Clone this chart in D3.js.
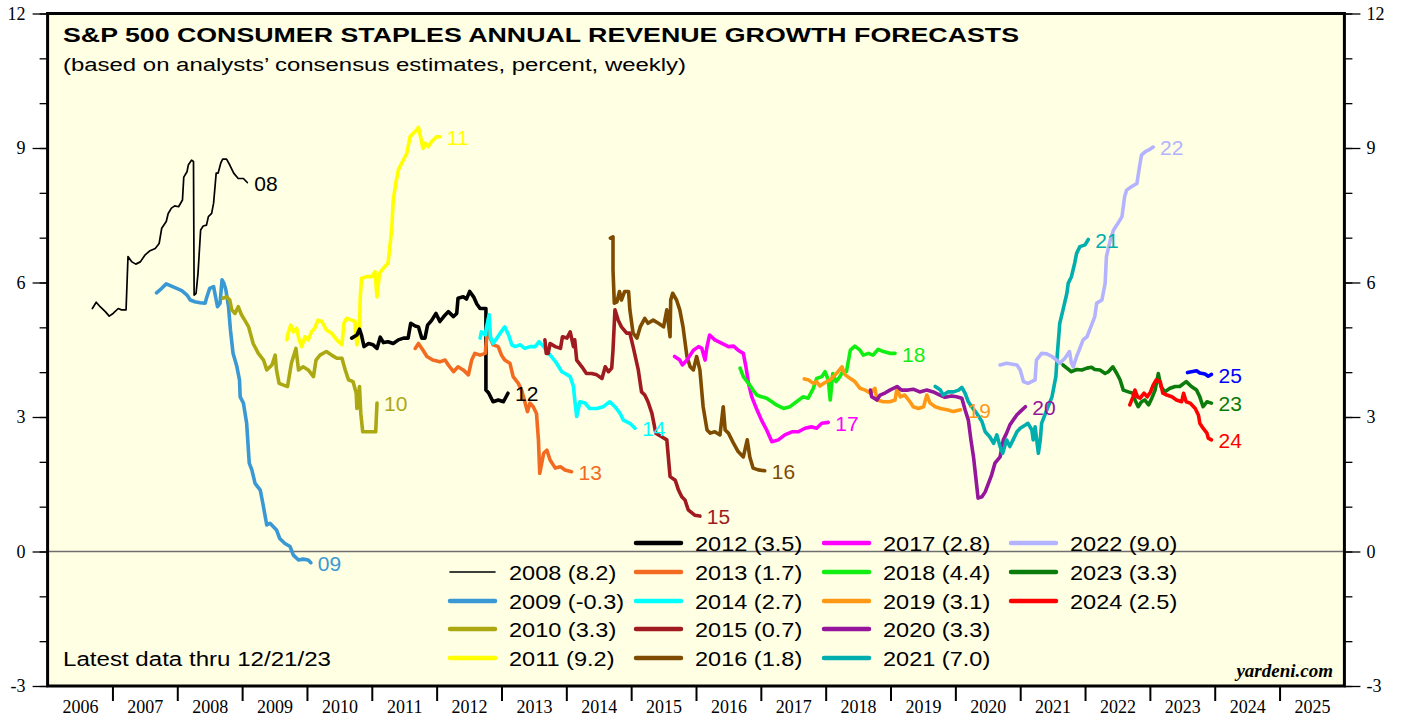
<!DOCTYPE html>
<html>
<head>
<meta charset="utf-8">
<script src="https://cdn.jsdelivr.net/npm/d3@7"></script>
<style>
html, body { margin: 0; padding: 0; background: #fff; }
svg { display: block; font-family: "Liberation Sans", Arial, sans-serif; }
</style>
</head>
<body>
<svg id="chart"></svg>
<script>
// chart size
const width = 1403;
const height = 717;

// weekly consensus forecasts, [date (decimal year), percent]
const d2008 = [[2006.69,5.42],[2006.75,5.56],[2006.81,5.46],[2006.89,5.35],[2006.95,5.25],[2007.01,5.31],[2007.09,5.42],[2007.14,5.39],[2007.21,5.39],[2007.24,6.58],[2007.30,6.46],[2007.36,6.41],[2007.43,6.46],[2007.50,6.61],[2007.58,6.71],[2007.66,6.76],[2007.72,6.87],[2007.76,7.21],[2007.83,7.36],[2007.86,7.54],[2007.91,7.66],[2007.96,7.71],[2008.02,7.69],[2008.08,7.84],[2008.10,8.35],[2008.15,8.47],[2008.17,8.62],[2008.22,8.73],[2008.25,8.70],[2008.26,5.72],[2008.29,5.76],[2008.32,6.21],[2008.36,7.17],[2008.40,7.26],[2008.45,7.28],[2008.48,7.47],[2008.53,7.54],[2008.56,7.77],[2008.60,8.44],[2008.63,8.44],[2008.67,8.66],[2008.70,8.75],[2008.76,8.75],[2008.81,8.62],[2008.87,8.44],[2008.94,8.32],[2009.02,8.32],[2009.08,8.23]];
const d2009 = [[2007.68,5.77],[2007.76,5.87],[2007.83,5.97],[2007.91,5.92],[2007.99,5.87],[2008.07,5.82],[2008.15,5.72],[2008.20,5.61],[2008.27,5.57],[2008.35,5.55],[2008.43,5.54],[2008.45,5.65],[2008.50,5.87],[2008.56,5.91],[2008.60,5.61],[2008.62,5.46],[2008.66,5.54],[2008.69,6.06],[2008.72,5.98],[2008.75,5.83],[2008.79,5.46],[2008.82,4.94],[2008.86,4.42],[2008.92,4.12],[2008.96,3.82],[2008.97,3.45],[2009.02,3.31],[2009.07,2.86],[2009.11,1.97],[2009.15,1.82],[2009.20,1.52],[2009.28,1.37],[2009.32,1.07],[2009.38,0.59],[2009.43,0.63],[2009.53,0.48],[2009.58,0.29],[2009.66,0.18],[2009.74,0.11],[2009.79,-0.08],[2009.87,-0.19],[2009.94,-0.17],[2010.02,-0.19],[2010.06,-0.25]];
const d2010 = [[2008.70,5.65],[2008.76,5.68],[2008.81,5.61],[2008.84,5.39],[2008.89,5.31],[2008.94,5.46],[2008.99,5.28],[2009.04,5.16],[2009.10,5.01],[2009.17,4.64],[2009.25,4.42],[2009.33,4.27],[2009.38,4.05],[2009.46,4.16],[2009.51,4.38],[2009.53,4.05],[2009.57,3.75],[2009.64,3.71],[2009.70,3.68],[2009.76,4.20],[2009.83,4.53],[2009.87,4.05],[2009.94,4.12],[2010.02,4.05],[2010.10,3.90],[2010.14,4.27],[2010.20,4.38],[2010.30,4.46],[2010.38,4.38],[2010.46,4.31],[2010.54,4.31],[2010.59,4.05],[2010.64,3.83],[2010.71,3.79],[2010.76,3.53],[2010.77,3.19],[2010.81,3.68],[2010.83,3.08],[2010.86,2.67],[2010.95,2.67],[2011.06,2.67],[2011.08,3.31]];
const d2011 = [[2009.69,4.72],[2009.71,4.87],[2009.75,5.05],[2009.79,4.90],[2009.84,4.98],[2009.88,4.72],[2009.92,4.57],[2009.97,4.79],[2010.02,4.72],[2010.07,4.90],[2010.12,4.98],[2010.17,5.16],[2010.23,5.13],[2010.30,4.94],[2010.38,4.87],[2010.46,4.72],[2010.54,4.61],[2010.57,5.09],[2010.61,5.20],[2010.69,5.16],[2010.74,5.13],[2010.77,4.61],[2010.81,4.94],[2010.82,5.61],[2010.84,6.09],[2010.92,6.13],[2011.00,6.13],[2011.05,6.24],[2011.08,5.68],[2011.12,6.21],[2011.18,6.32],[2011.25,6.43],[2011.29,6.95],[2011.31,7.25],[2011.33,7.84],[2011.37,8.21],[2011.41,8.51],[2011.46,8.66],[2011.54,8.88],[2011.59,9.25],[2011.64,9.33],[2011.69,9.40],[2011.72,9.46],[2011.79,8.99],[2011.82,9.11],[2011.87,9.03],[2011.92,9.14],[2012.00,9.25],[2012.05,9.25]];
const d2012 = [[2010.69,4.76],[2010.77,4.83],[2010.81,4.96],[2010.84,4.83],[2010.88,4.57],[2010.95,4.64],[2011.02,4.61],[2011.08,4.53],[2011.13,4.78],[2011.18,4.66],[2011.25,4.68],[2011.33,4.64],[2011.41,4.72],[2011.49,4.76],[2011.56,4.76],[2011.60,5.09],[2011.67,5.03],[2011.72,5.01],[2011.77,4.76],[2011.82,4.76],[2011.86,5.05],[2011.92,5.15],[2011.99,5.31],[2012.05,5.13],[2012.11,5.24],[2012.18,5.35],[2012.26,5.24],[2012.31,5.31],[2012.33,5.65],[2012.41,5.68],[2012.46,5.63],[2012.51,5.80],[2012.57,5.68],[2012.62,5.52],[2012.67,5.42],[2012.76,5.42],[2012.76,3.60],[2012.80,3.54],[2012.87,3.34],[2012.95,3.38],[2013.03,3.34],[2013.10,3.53]];
const d2013 = [[2011.67,4.53],[2011.72,4.64],[2011.79,4.49],[2011.85,4.35],[2011.94,4.27],[2012.05,4.23],[2012.13,4.27],[2012.18,4.16],[2012.26,4.01],[2012.33,4.12],[2012.41,4.05],[2012.49,3.94],[2012.54,4.27],[2012.59,4.42],[2012.67,4.38],[2012.75,4.42],[2012.80,5.20],[2012.82,4.79],[2012.87,4.61],[2012.95,4.57],[2013.00,4.38],[2013.05,4.27],[2013.13,4.20],[2013.18,3.90],[2013.26,3.75],[2013.31,3.60],[2013.36,3.34],[2013.40,3.12],[2013.44,3.31],[2013.49,3.23],[2013.54,3.08],[2013.57,2.49],[2013.59,1.74],[2013.65,2.19],[2013.70,2.26],[2013.75,2.04],[2013.83,1.86],[2013.91,1.89],[2013.98,1.82],[2014.08,1.78]];
const d2014 = [[2012.67,4.76],[2012.69,4.90],[2012.75,4.83],[2012.77,5.01],[2012.81,5.28],[2012.83,4.79],[2012.87,4.64],[2012.93,4.76],[2012.98,4.87],[2013.05,5.01],[2013.11,4.83],[2013.16,4.61],[2013.21,4.57],[2013.29,4.61],[2013.36,4.53],[2013.44,4.57],[2013.52,4.57],[2013.58,4.68],[2013.65,4.57],[2013.70,4.46],[2013.77,4.35],[2013.85,4.20],[2013.93,4.01],[2013.98,3.97],[2014.06,3.90],[2014.11,3.68],[2014.13,3.38],[2014.16,3.01],[2014.21,3.34],[2014.29,3.31],[2014.36,3.19],[2014.47,3.19],[2014.57,3.23],[2014.67,3.34],[2014.75,3.23],[2014.83,3.08],[2014.88,2.93],[2014.98,2.86],[2015.06,2.75]];
const d2015 = [[2013.67,4.72],[2013.69,4.42],[2013.72,4.42],[2013.75,4.64],[2013.83,4.57],[2013.91,4.53],[2013.94,4.79],[2014.01,4.76],[2014.06,4.90],[2014.11,4.57],[2014.13,4.72],[2014.16,4.27],[2014.24,4.12],[2014.31,3.97],[2014.39,3.97],[2014.47,3.94],[2014.55,3.86],[2014.60,4.12],[2014.65,4.01],[2014.70,4.09],[2014.72,4.49],[2014.75,5.39],[2014.80,5.16],[2014.85,5.01],[2014.93,4.87],[2014.98,4.87],[2015.03,4.57],[2015.11,4.05],[2015.16,3.56],[2015.21,3.49],[2015.26,3.34],[2015.32,3.08],[2015.38,2.64],[2015.47,2.56],[2015.55,2.49],[2015.60,1.67],[2015.68,1.59],[2015.73,1.37],[2015.78,1.22],[2015.83,1.15],[2015.88,0.93],[2015.98,0.81],[2016.06,0.79]];
const d2016 = [[2014.68,6.99],[2014.72,7.02],[2014.72,6.28],[2014.74,5.54],[2014.78,5.57],[2014.82,5.80],[2014.85,5.61],[2014.90,5.80],[2014.96,5.80],[2014.98,5.39],[2015.03,4.87],[2015.09,4.76],[2015.14,5.01],[2015.21,5.20],[2015.26,5.09],[2015.34,5.16],[2015.42,5.09],[2015.50,5.01],[2015.55,5.39],[2015.60,4.79],[2015.61,5.61],[2015.64,5.76],[2015.70,5.61],[2015.75,5.39],[2015.80,5.01],[2015.86,4.35],[2015.91,4.12],[2015.96,4.05],[2016.01,4.35],[2016.06,4.05],[2016.11,3.23],[2016.17,2.71],[2016.22,2.64],[2016.29,2.67],[2016.37,2.60],[2016.42,3.23],[2016.45,2.71],[2016.50,2.64],[2016.58,2.41],[2016.65,2.23],[2016.73,2.11],[2016.79,2.49],[2016.83,2.11],[2016.88,1.86],[2016.96,1.82],[2017.06,1.80]];
const d2017 = [[2015.67,4.35],[2015.75,4.27],[2015.79,4.16],[2015.86,4.27],[2015.91,4.38],[2015.96,4.49],[2016.04,4.57],[2016.09,4.53],[2016.14,4.27],[2016.17,4.57],[2016.21,4.83],[2016.29,4.72],[2016.40,4.64],[2016.50,4.57],[2016.58,4.58],[2016.65,4.49],[2016.73,4.42],[2016.77,4.12],[2016.81,3.75],[2016.86,3.45],[2016.94,3.16],[2017.01,2.93],[2017.09,2.71],[2017.17,2.45],[2017.27,2.49],[2017.37,2.60],[2017.48,2.67],[2017.58,2.67],[2017.68,2.75],[2017.78,2.78],[2017.86,2.75],[2017.94,2.86],[2018.04,2.88]];
const d2018 = [[2016.68,4.09],[2016.73,3.90],[2016.81,3.75],[2016.88,3.60],[2016.94,3.49],[2017.01,3.45],[2017.09,3.42],[2017.17,3.34],[2017.24,3.27],[2017.35,3.19],[2017.45,3.23],[2017.55,3.34],[2017.65,3.45],[2017.73,3.42],[2017.81,3.64],[2017.86,3.86],[2017.94,3.90],[2017.99,4.01],[2018.04,3.83],[2018.07,3.38],[2018.11,3.97],[2018.16,3.79],[2018.22,3.90],[2018.26,4.01],[2018.32,4.01],[2018.38,4.49],[2018.45,4.58],[2018.53,4.49],[2018.58,4.38],[2018.66,4.42],[2018.73,4.38],[2018.81,4.51],[2018.89,4.46],[2018.99,4.42],[2019.07,4.42]];
const d2019 = [[2017.67,3.85],[2017.73,3.83],[2017.81,3.75],[2017.86,3.79],[2017.91,3.69],[2017.99,3.77],[2018.07,3.83],[2018.12,3.90],[2018.19,4.01],[2018.25,4.12],[2018.30,3.94],[2018.38,3.86],[2018.45,3.79],[2018.53,3.64],[2018.61,3.60],[2018.69,3.53],[2018.76,3.64],[2018.79,3.38],[2018.89,3.34],[2018.99,3.34],[2019.07,3.38],[2019.10,3.64],[2019.15,3.45],[2019.22,3.49],[2019.30,3.34],[2019.35,3.23],[2019.43,3.19],[2019.51,3.23],[2019.56,3.49],[2019.61,3.31],[2019.69,3.23],[2019.77,3.19],[2019.87,3.16],[2019.97,3.12],[2020.08,3.16]];
const d2020 = [[2018.69,3.60],[2018.71,3.45],[2018.79,3.38],[2018.84,3.49],[2018.92,3.54],[2018.99,3.60],[2019.10,3.68],[2019.17,3.60],[2019.27,3.60],[2019.35,3.62],[2019.45,3.56],[2019.56,3.60],[2019.66,3.56],[2019.76,3.49],[2019.84,3.44],[2019.94,3.47],[2020.02,3.45],[2020.10,3.42],[2020.15,3.16],[2020.20,2.93],[2020.24,2.49],[2020.28,2.11],[2020.32,1.59],[2020.35,1.19],[2020.41,1.22],[2020.46,1.33],[2020.51,1.52],[2020.56,1.71],[2020.61,1.97],[2020.69,2.11],[2020.74,2.49],[2020.79,2.64],[2020.84,2.82],[2020.89,2.93],[2020.95,3.05],[2021.00,3.12],[2021.08,3.23]];
const d2021 = [[2019.69,3.68],[2019.77,3.60],[2019.81,3.49],[2019.89,3.56],[2019.97,3.56],[2020.05,3.60],[2020.10,3.66],[2020.15,3.53],[2020.20,3.34],[2020.25,3.23],[2020.33,3.08],[2020.41,2.90],[2020.46,2.67],[2020.53,2.56],[2020.59,2.41],[2020.64,2.60],[2020.69,2.34],[2020.73,2.19],[2020.79,2.49],[2020.84,2.34],[2020.89,2.49],[2020.95,2.67],[2021.00,2.75],[2021.08,2.82],[2021.12,2.86],[2021.18,2.71],[2021.20,2.49],[2021.23,2.78],[2021.28,2.19],[2021.31,2.49],[2021.33,2.86],[2021.41,3.16],[2021.49,3.45],[2021.55,3.90],[2021.57,4.35],[2021.61,5.09],[2021.66,5.39],[2021.72,5.76],[2021.74,5.98],[2021.79,6.13],[2021.84,6.43],[2021.87,6.65],[2021.92,6.80],[2022.00,6.84],[2022.05,6.96]];
const d2022 = [[2020.69,4.16],[2020.79,4.20],[2020.95,4.16],[2021.00,4.05],[2021.05,3.79],[2021.12,3.75],[2021.23,3.83],[2021.25,4.27],[2021.33,4.42],[2021.41,4.41],[2021.49,4.35],[2021.56,4.27],[2021.61,4.20],[2021.69,4.31],[2021.76,4.46],[2021.79,4.20],[2021.82,4.12],[2021.87,4.35],[2021.92,4.53],[2021.97,4.72],[2022.03,4.79],[2022.10,5.05],[2022.15,5.24],[2022.18,5.54],[2022.26,5.61],[2022.31,5.98],[2022.33,6.58],[2022.39,6.95],[2022.44,7.17],[2022.49,7.28],[2022.57,7.47],[2022.61,7.91],[2022.64,8.06],[2022.72,8.14],[2022.80,8.21],[2022.84,8.58],[2022.87,8.84],[2022.93,8.92],[2023.00,8.97],[2023.05,9.02]];
const d2023 = [[2021.66,4.16],[2021.72,4.09],[2021.79,4.01],[2021.87,4.06],[2021.95,4.05],[2022.03,4.09],[2022.10,4.11],[2022.15,4.06],[2022.23,4.05],[2022.31,3.97],[2022.36,4.01],[2022.43,4.12],[2022.49,3.97],[2022.54,3.83],[2022.59,3.60],[2022.67,3.56],[2022.74,3.53],[2022.77,3.38],[2022.82,3.23],[2022.87,3.34],[2022.92,3.38],[2022.98,3.27],[2023.03,3.42],[2023.08,3.60],[2023.13,3.97],[2023.17,3.68],[2023.23,3.56],[2023.31,3.64],[2023.39,3.68],[2023.46,3.68],[2023.56,3.79],[2023.64,3.68],[2023.72,3.60],[2023.77,3.45],[2023.82,3.23],[2023.88,3.34],[2023.95,3.31]];
const d2024 = [[2022.69,3.27],[2022.74,3.45],[2022.77,3.60],[2022.81,3.45],[2022.85,3.42],[2022.91,3.53],[2022.96,3.45],[2023.01,3.56],[2023.05,3.71],[2023.10,3.83],[2023.16,3.79],[2023.20,3.53],[2023.26,3.49],[2023.34,3.45],[2023.41,3.38],[2023.49,3.34],[2023.52,3.53],[2023.56,3.34],[2023.62,3.31],[2023.70,3.19],[2023.75,3.04],[2023.77,2.86],[2023.82,2.75],[2023.88,2.64],[2023.90,2.53],[2023.95,2.49]];
const d2025 = [[2023.58,3.99],[2023.64,4.01],[2023.72,4.03],[2023.77,3.98],[2023.85,3.96],[2023.90,3.91],[2023.95,3.95]];

const seriesYears = [2008, 2009, 2010, 2011, 2012, 2013, 2014, 2015, 2016, 2017, 2018, 2019, 2020, 2021, 2022, 2023, 2024, 2025];
const seriesData = [d2008, d2009, d2010, d2011, d2012, d2013, d2014, d2015, d2016, d2017, d2018, d2019, d2020, d2021, d2022, d2023, d2024, d2025];
// final value shown in the legend (2025 has no legend entry)
const legendYears = [2008, 2009, 2010, 2011, 2012, 2013, 2014, 2015, 2016, 2017, 2018, 2019, 2020, 2021, 2022, 2023, 2024];
const legendValues = ["8.2", "-0.3", "3.3", "9.2", "3.5", "1.7", "2.7", "0.7", "1.8", "2.8", "4.4", "3.1", "3.3", "7.0", "9.0", "3.3", "2.5"];

const yTicks = d3.range(-3, 13, 1);
const yLabels = [-3, 0, 3, 6, 9, 12];
const xYears = d3.range(2006, 2026);

// styles
const colors = {
	2008: "#000000", 2009: "#3a99d4", 2010: "#aca812", 2011: "#ffff00", 2012: "#000000",
	2013: "#f26b21", 2014: "#00ffff", 2015: "#a01b20", 2016: "#7f4b00", 2017: "#ff00ff",
	2018: "#11ee11", 2019: "#ff9915", 2020: "#95159b", 2021: "#00aeae", 2022: "#b3b3ff",
	2023: "#0b7b0b", 2024: "#ff0000", 2025: "#0000ff"
};
const lineWidth = yr => yr === 2008 ? 1.7 : 3.6;

const x = d3.scaleLinear().domain([2006, 2026]).range([47.6, 1344.4]);
const y = d3.scaleLinear().domain([-3, 12]).range([686, 13.5]);

const svg = d3.select("#chart")
	.attr("width", width)
	.attr("height", height);

// stretch text horizontally to match the original rendering
function stretch(sel, k) {
	sel.each(function() {
		const len = this.getComputedTextLength();
		d3.select(this).attr("textLength", len * k).attr("lengthAdjust", "spacingAndGlyphs");
	});
}

// plot background
svg.append("rect")
	.attr("x", x(2006)).attr("y", y(12))
	.attr("width", x(2026) - x(2006)).attr("height", y(-3) - y(12))
	.attr("fill", "#ffffe4");

// zero line
svg.append("line")
	.attr("x1", x(2006)).attr("x2", x(2026))
	.attr("y1", y(0)).attr("y2", y(0))
	.attr("stroke", "#6e6e6e").attr("stroke-width", 1.5);

// y axes: minor ticks every 1, labels every 3
function styleAxis(g) {
	g.select(".domain").remove();
	g.selectAll(".tick line").attr("stroke", "#000").attr("stroke-width", 1.3);
	g.selectAll("text")
		.style("font-family", "'Liberation Serif', 'Times New Roman', serif")
		.style("font-size", "18px")
		.attr("fill", "#000");
}
svg.append("g").attr("transform", `translate(${x(2006)},0)`)
	.call(d3.axisLeft(y).tickValues(yTicks).tickSize(8).tickFormat(""))
	.call(styleAxis);
svg.append("g").attr("transform", `translate(${x(2006)},0)`)
	.call(d3.axisLeft(y).tickValues(yLabels).tickSize(15).tickPadding(7).tickFormat(d => String(d)))
	.call(styleAxis);
svg.append("g").attr("transform", `translate(${x(2026)},0)`)
	.call(d3.axisRight(y).tickValues(yTicks).tickSize(8).tickFormat(""))
	.call(styleAxis);
svg.append("g").attr("transform", `translate(${x(2026)},0)`)
	.call(d3.axisRight(y).tickValues(yLabels).tickSize(16).tickPadding(6).tickFormat(d => String(d)))
	.call(styleAxis);

// x axis: ticks on year boundaries, labels centred in the years
svg.append("g").attr("transform", `translate(0,${y(-3)})`)
	.call(d3.axisBottom(x).tickValues(d3.range(2007, 2026)).tickSize(15).tickFormat(""))
	.call(styleAxis)
	.selectAll(".tick line").attr("stroke-width", 2);
svg.append("g").attr("transform", `translate(0,${y(-3)})`)
	.call(d3.axisBottom(x).tickValues(xYears.map(d => d + 0.5)).tickSize(0).tickPadding(14).tickFormat(d => String(Math.floor(d))))
	.call(styleAxis);

// series lines
const line = d3.line()
	.x(d => x(d[0]))
	.y(d => y(d[1]));

const series = seriesYears.map((yr, i) => ({year: yr, values: seriesData[i]}));

svg.append("g")
	.selectAll("path")
	.data(series)
	.join("path")
	.attr("d", d => line(d.values))
	.attr("fill", "none")
	.attr("stroke", d => colors[d.year])
	.attr("stroke-width", d => lineWidth(d.year))
	.attr("stroke-linejoin", "round")
	.attr("stroke-linecap", "round");

// end labels
svg.append("g")
	.selectAll("text")
	.data(series)
	.join("text")
	.attr("x", d => x(d.values[d.values.length - 1][0]) + 7)
	.attr("y", d => y(d.values[d.values.length - 1][1]) + 1)
	.attr("dy", "0.36em")
	.attr("fill", d => colors[d.year])
	.style("font-size", "20px")
	.text(d => String(d.year).slice(2))
	.call(stretch, 1.05);

// frame
svg.append("rect")
	.attr("x", x(2006)).attr("y", y(12))
	.attr("width", x(2026) - x(2006)).attr("height", y(-3) - y(12))
	.attr("fill", "none").attr("stroke", "#000").attr("stroke-width", 3);

// titles
svg.append("text")
	.attr("x", 63).attr("y", 42)
	.style("font-size", "21px").style("font-weight", "bold")
	.attr("textLength", 956).attr("lengthAdjust", "spacingAndGlyphs")
	.text("S&P 500 CONSUMER STAPLES ANNUAL REVENUE GROWTH FORECASTS");
svg.append("text")
	.attr("x", 63).attr("y", 71)
	.style("font-size", "18px")
	.attr("textLength", 623).attr("lengthAdjust", "spacingAndGlyphs")
	.text("(based on analysts\u2019 consensus estimates, percent, weekly)");

// legend: 4 columns x 5 rows, column-major, first slot empty
const legendColX = [450, 636, 824, 1011];
const legendRowY = [543, 572, 601, 629, 658];
const legend = svg.append("g")
	.selectAll("g")
	.data(legendYears.map((yr, i) => ({year: yr, value: legendValues[i], slot: i + 1})))
	.join("g")
	.attr("transform", d => `translate(${legendColX[Math.floor(d.slot / 5)]},${legendRowY[d.slot % 5]})`);
legend.append("line")
	.attr("x1", 0).attr("x2", 45)
	.attr("stroke", d => colors[d.year])
	.attr("stroke-width", d => d.year === 2008 ? 1.6 : 4.5)
	.attr("stroke-linecap", "round");
legend.append("text")
	.attr("x", 59).attr("dy", "0.36em")
	.style("font-size", "21px")
	.text(d => `${d.year} (${d.value})`)
	.call(stretch, 1.12);

// notes
svg.append("text")
	.attr("x", 63).attr("y", 666)
	.style("font-size", "20px")
	.attr("textLength", 268).attr("lengthAdjust", "spacingAndGlyphs")
	.text("Latest data thru  12/21/23");
svg.append("text")
	.attr("x", 1333).attr("y", 677)
	.attr("text-anchor", "end")
	.style("font-family", "'Liberation Serif', 'Times New Roman', serif")
	.style("font-size", "19px").style("font-weight", "bold").style("font-style", "italic")
	.text("yardeni.com");
</script>
</body>
</html>
